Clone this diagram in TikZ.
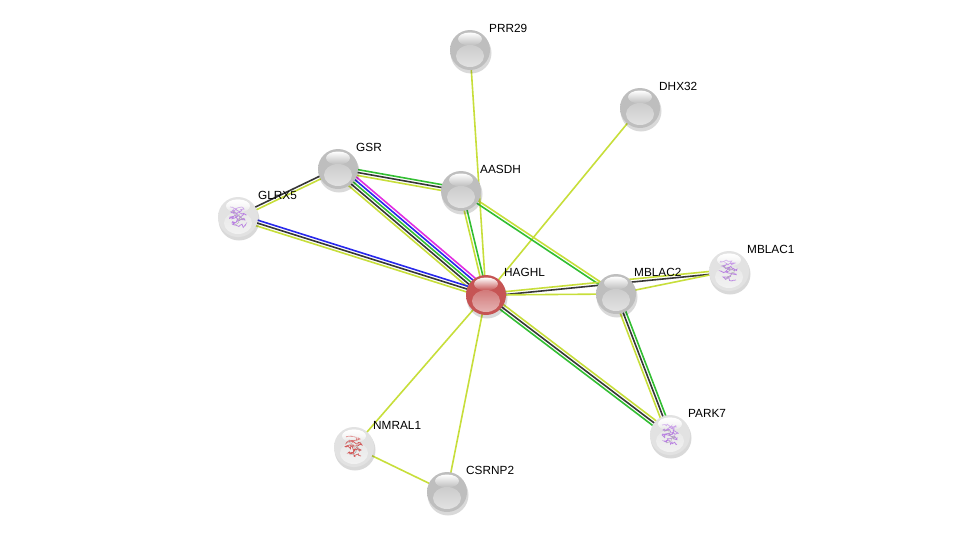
\documentclass[tikz,border=0pt]{standalone}
\usepackage{fontspec}
\setmainfont{Liberation Sans}
\usetikzlibrary{calc,fadings,decorations.pathmorphing}
\pgfdeclarelayer{bg}
\pgfsetlayers{bg,main}
\definecolor{txtmine}{RGB}{199,222,58}
\definecolor{coexp}{RGB}{55,55,55}
\definecolor{neigh}{RGB}{50,190,50}
\definecolor{cooc}{RGB}{40,40,235}
\definecolor{exper}{RGB}{225,45,225}
\definecolor{protpurple}{RGB}{185,130,225}
\definecolor{protred}{RGB}{210,90,90}
\definecolor{gC}{RGB}{190,190,190}
\definecolor{gD}{RGB}{160,160,160}
\definecolor{gE}{RGB}{118,118,118}
\definecolor{rC}{RGB}{198,84,84}
\definecolor{rD}{RGB}{165,55,55}
\definecolor{rE}{RGB}{112,25,25}
\definecolor{iC}{RGB}{226,226,226}
\definecolor{iD}{RGB}{190,190,190}
\definecolor{iE}{RGB}{135,135,135}
\pgfdeclareradialshading{sphgray}{\pgfpoint{0bp}{0bp}}{%
  color(0bp)=(gC); color(34bp)=(gC); color(44bp)=(gD); color(50bp)=(gE)}
\pgfdeclareradialshading{sphimg}{\pgfpoint{0bp}{0bp}}{%
  color(0bp)=(iC); color(34bp)=(iC); color(44bp)=(iD); color(50bp)=(iE)}
\pgfdeclareradialshading{sphred}{\pgfpoint{0bp}{0bp}}{%
  color(0bp)=(rC); color(34bp)=(rC); color(44bp)=(rD); color(50bp)=(rE)}
\tikzset{
  sph/.style={circle, minimum size=40pt, inner sep=0pt, shading=sphgray,
    path picture={%
      \fill[white, opacity=0.6, path fading=north]
        ([yshift=-6pt]path picture bounding box.center) ellipse [x radius=14pt, y radius=11pt];
      \fill[white, path fading=south]
        ([yshift=11pt]path picture bounding box.center) ellipse [x radius=12pt, y radius=6.5pt];}},
  sphi/.style={sph, shading=sphimg},
  sphr/.style={sph, shading=sphred},
  lab/.style={anchor=base west, font=\fontsize{11.8}{13}\selectfont, inner sep=0pt},
  ln/.style={line width=1.6pt},
  shadow/.style={fill=black, opacity=0.15}
}
\newcommand{\medge}[4]{%
  \foreach \c [count=\i] in {#4}{%
    \pgfmathsetmacro{\off}{((#3+1)/2-\i)*2.9}%
    \draw[ln, \c] ($(#1.center)!\off pt!90:(#2.center)$) -- ($(#2.center)!\off pt!-90:(#1.center)$);
  }}
\newcommand{\prot}[3]{% node, colour, seed
  \begin{scope}
    \clip (#1.center) circle (14pt);
    \pgfmathsetseed{#3}
    \draw[#2, line width=0.7pt, decorate, decoration={random steps, segment length=1.5pt, amplitude=2pt}]
      ($(#1.center)+(-8,-10)$) -- ($(#1.center)+(6,-8)$) -- ($(#1.center)+(-7,-5)$) -- ($(#1.center)+(8,-2)$)
      -- ($(#1.center)+(-8,0)$) -- ($(#1.center)+(7,3)$) -- ($(#1.center)+(-6,6)$) -- ($(#1.center)+(7,9)$);
    \draw[gray!60, line width=0.4pt, decorate, decoration={random steps, segment length=2pt, amplitude=2pt}]
      ($(#1.center)+(-6,-6)$) -- ($(#1.center)+(5,2)$) -- ($(#1.center)+(-4,8)$);
  \end{scope}}
\begin{document}
\begin{tikzpicture}[x=1pt, y=-1pt]
\useasboundingbox (0,0) rectangle (976,538);
% shadows
\foreach \p in {(470,50),(640,108),(338,169),(461,191),(238,217),(486,295),(616,294),(729,271),(670,435),(354,447),(447,492)}
  \fill[shadow] \p ++(1,3) circle (20.5pt);
% nodes
\node[sph]  (PRR29)  at (470,50)  {};
\node[sph]  (DHX32)  at (640,108) {};
\node[sph]  (GSR)    at (338,169) {};
\node[sph]  (AASDH)  at (461,191) {};
\node[sphi] (GLRX5)  at (238,217) {};
\node[sphr] (HAGHL)  at (486,295) {};
\node[sph]  (MBLAC2) at (616,294) {};
\node[sphi] (MBLAC1) at (729,271) {};
\node[sphi] (PARK7)  at (670,435) {};
\node[sphi] (NMRAL1) at (354,447) {};
\node[sph]  (CSRNP2) at (447,492) {};
% protein structure hints
\prot{GLRX5}{protpurple}{11}
\prot{MBLAC1}{protpurple}{23}
\prot{PARK7}{protpurple}{37}
\prot{NMRAL1}{protred}{41}
\foreach \n in {GLRX5,MBLAC1,PARK7,NMRAL1}
  \fill[white, path fading=south, opacity=0.8] ([yshift=11pt]\n.center) ellipse [x radius=12pt, y radius=6.5pt];
% labels
\node[lab] at ($(PRR29.center)+(19,-18)$)  {PRR29};
\node[lab] at ($(DHX32.center)+(19,-18)$)  {DHX32};
\node[lab] at ($(GSR.center)+(18,-18)$)    {GSR};
\node[lab] at ($(AASDH.center)+(19,-18)$)  {AASDH};
\node[lab] at ($(GLRX5.center)+(20,-18)$)  {GLRX5};
\node[lab] at ($(HAGHL.center)+(18,-19)$)  {HAGHL};
\node[lab] at ($(MBLAC2.center)+(18,-18)$) {MBLAC2};
\node[lab] at ($(MBLAC1.center)+(18,-18)$) {MBLAC1};
\node[lab] at ($(PARK7.center)+(18,-18)$)  {PARK7};
\node[lab] at ($(NMRAL1.center)+(19,-18)$) {NMRAL1};
\node[lab] at ($(CSRNP2.center)+(19,-18)$) {CSRNP2};
% edges
\begin{pgfonlayer}{bg}
\medge{PRR29}{HAGHL}{1}{txtmine}
\medge{DHX32}{HAGHL}{1}{txtmine}
\medge{GSR}{AASDH}{3}{neigh,coexp,txtmine}
\medge{GLRX5}{GSR}{2}{coexp,txtmine}
\medge{GSR}{HAGHL}{5}{exper,cooc,neigh,coexp,txtmine}
\medge{GLRX5}{HAGHL}{3}{cooc,coexp,txtmine}
\medge{AASDH}{HAGHL}{2}{neigh,txtmine}
\medge{AASDH}{MBLAC2}{2}{txtmine,neigh}
\medge{HAGHL}{MBLAC1}{2}{txtmine,coexp}
\medge{HAGHL}{MBLAC2}{1}{txtmine}
\medge{MBLAC2}{MBLAC1}{1}{txtmine}
\medge{HAGHL}{PARK7}{3}{txtmine,coexp,neigh}
\medge{MBLAC2}{PARK7}{3}{neigh,coexp,txtmine}
\medge{HAGHL}{NMRAL1}{1}{txtmine}
\medge{HAGHL}{CSRNP2}{1}{txtmine}
\medge{NMRAL1}{CSRNP2}{1}{txtmine}
\end{pgfonlayer}
\end{tikzpicture}
\end{document}
